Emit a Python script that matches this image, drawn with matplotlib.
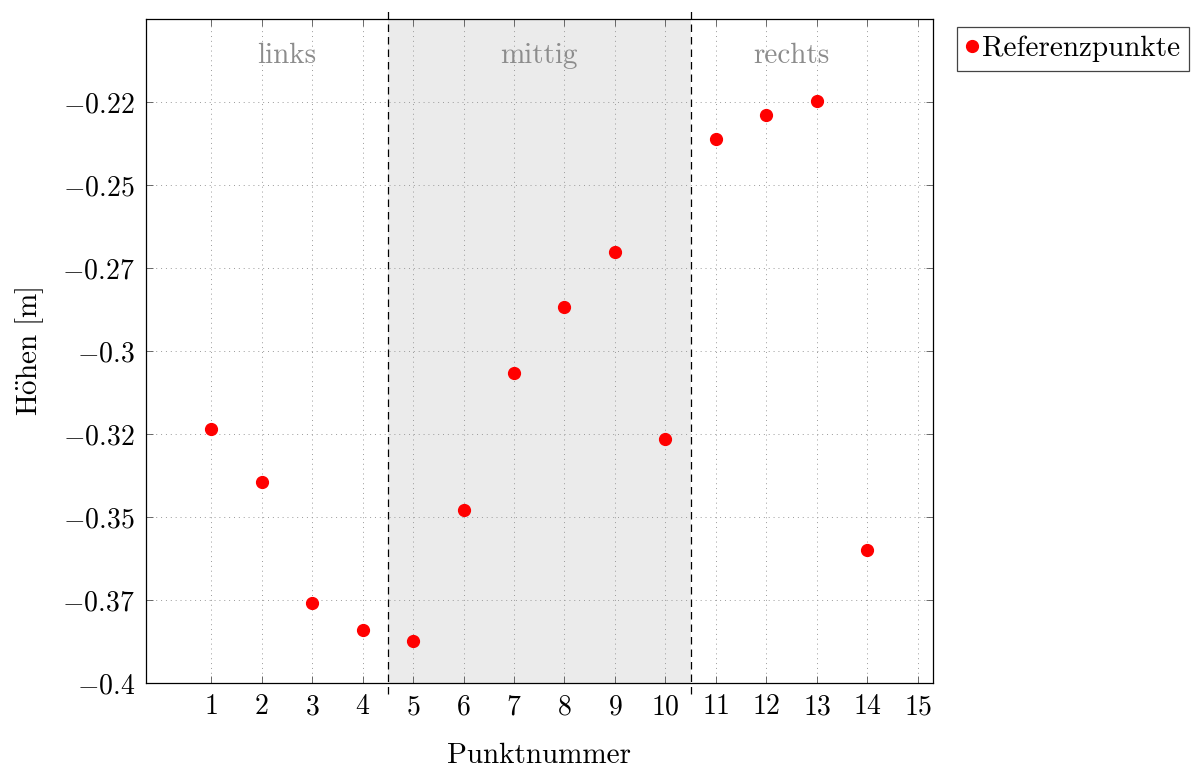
import matplotlib
matplotlib.use("Agg")
import matplotlib.pyplot as plt
from matplotlib.ticker import FixedLocator, FixedFormatter

# Messwerte je Punktnummer
punkte = [1, 2, 3, 4, 5, 6, 7, 8, 9, 10, 11, 12, 13, 14]
hoehen = [-0.3235, -0.3395, -0.3759, -0.3840, -0.3873, -0.3479, -0.3066,
          -0.2867, -0.2702, -0.3265, -0.2361, -0.2289, -0.2247, -0.3599]

x_ticks = list(range(1, 16))
y_ticks = [-0.4, -0.375, -0.35, -0.325, -0.3, -0.275, -0.25, -0.225]
y_labels = ["$-0.4$", "$-0.37$", "$-0.35$", "$-0.32$", "$-0.3$", "$-0.27$",
            "$-0.25$", "$-0.22$"]

grenzen = [4.5, 10.5]
bereiche = ["links", "mittig", "rechts"]
bereich_mitte = [2.5, 7.5, 12.5]

plt.rcParams["font.family"] = ["cmr10", "DejaVu Serif"]
plt.rcParams["mathtext.fontset"] = "cm"
plt.rcParams["axes.formatter.use_mathtext"] = True
plt.rcParams["font.size"] = 21

fig = plt.figure(figsize=(11.97, 7.67), dpi=100)
W, H = 1197, 767
ax = fig.add_axes([146 / W, 1 - 683 / H, (933 - 146) / W, (683 - 19) / H])

ax.set_xlim(-0.29, 15.3)
ax.set_ylim(-0.4, -0.2)

# mittlerer Bereich grau hinterlegt
ax.axvspan(grenzen[0], grenzen[1], color="#ebebeb", zorder=0, lw=0)
for g in grenzen:
    ax.axvline(g, ymin=-0.016, ymax=1.018, color="black", lw=0.9,
               ls=(0, (6, 4)), clip_on=False, zorder=3)

for name, xm in zip(bereiche, bereich_mitte):
    ax.text(xm, -0.211, name, color="#8c8c8c", ha="center", va="center",
            fontsize=21)

ax.plot(punkte, hoehen, ls="none", marker="o", ms=8.5, color="red",
        mec="red", label="Referenzpunkte", zorder=4)

ax.xaxis.set_major_locator(FixedLocator(x_ticks))
ax.xaxis.set_major_formatter(FixedFormatter([f"${t}$" for t in x_ticks]))
ax.yaxis.set_major_locator(FixedLocator(y_ticks))
ax.yaxis.set_major_formatter(FixedFormatter(y_labels))
ax.tick_params(direction="in", length=5, width=0.6, top=True, right=True,
               labelsize=20, pad=8, color="#555555")
ax.grid(True, ls=(0, (1, 4)), color="#9a9a9a", lw=0.7)
ax.set_axisbelow(True)
for s in ax.spines.values():
    s.set_linewidth(0.9)

ax.set_xlabel("Punktnummer", fontsize=21, labelpad=16)
ax.set_ylabel(r"$\mathrm{H\ddot{o}hen\ [m]}$", fontsize=21, labelpad=12)

fig.legend(loc="upper left", bbox_to_anchor=(957 / W, 1 - 27 / H),
           fancybox=False, edgecolor="#444444", framealpha=1,
           handlelength=0.4, handletextpad=0.15, borderpad=0.3,
           borderaxespad=0, fontsize=21).get_frame().set_linewidth(0.9)

fig.savefig("out.png", dpi=100)
